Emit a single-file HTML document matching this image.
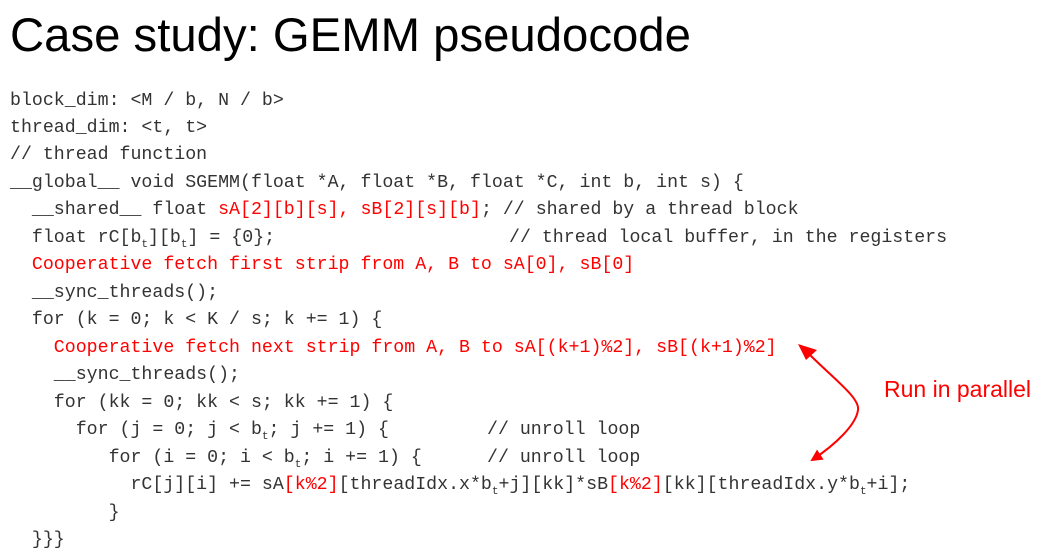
<!DOCTYPE html>
<html><head><meta charset="utf-8"><style>
html,body{margin:0;padding:0;background:#fff;}
body{width:1052px;height:557px;position:relative;overflow:hidden;}
.t{position:absolute;left:10px;top:8px;font-family:"Liberation Sans",sans-serif;font-size:47.3px;color:#000;white-space:nowrap;}
.l{position:absolute;left:10px;font-family:"Liberation Mono",monospace;font-size:18.25px;line-height:27px;color:#333;white-space:pre;}
.r{color:#f00;}
sub{font-size:11px;vertical-align:-5px;line-height:0;}
.c{position:absolute;font-family:"Liberation Mono",monospace;font-size:18.25px;line-height:27px;color:#333;white-space:pre;}
.p{position:absolute;left:884px;top:376px;font-family:"Liberation Sans",sans-serif;font-size:23px;color:#f00;white-space:nowrap;}
</style></head><body>
<div class="t">Case study: GEMM pseudocode</div>
<div class="l" style="top:88px">block_dim: &lt;M / b, N / b&gt;</div>
<div class="l" style="top:115px">thread_dim: &lt;t, t&gt;</div>
<div class="l" style="top:142px">// thread function</div>
<div class="l" style="top:170px">__global__ void SGEMM(float *A, float *B, float *C, int b, int s) {</div>
<div class="l" style="top:197px">  __shared__ float <span class="r">sA[2][b][s], sB[2][s][b]</span>; // shared by a thread block</div>
<div class="l" style="top:225px">  float rC[b<sub>t</sub>][b<sub>t</sub>] = {0};</div>
<div class="c" style="left:509px;top:225px">// thread local buffer, in the registers</div>
<div class="l r" style="top:252px">  Cooperative fetch first strip from A, B to sA[0], sB[0]</div>
<div class="l" style="top:280px">  __sync_threads();</div>
<div class="l" style="top:307px">  for (k = 0; k &lt; K / s; k += 1) {</div>
<div class="l r" style="top:335px">    Cooperative fetch next strip from A, B to sA[(k+1)%2], sB[(k+1)%2]</div>
<div class="l" style="top:362px">    __sync_threads();</div>
<div class="l" style="top:390px">    for (kk = 0; kk &lt; s; kk += 1) {</div>
<div class="l" style="top:417px">      for (j = 0; j &lt; b<sub>t</sub>; j += 1) {</div>
<div class="c" style="left:487px;top:417px">// unroll loop</div>
<div class="l" style="top:445px">         for (i = 0; i &lt; b<sub>t</sub>; i += 1) {</div>
<div class="c" style="left:487px;top:445px">// unroll loop</div>
<div class="l" style="top:472px">           rC[j][i] += sA<span class="r">[k%2]</span>[threadIdx.x*b<sub>t</sub>+j][kk]*sB<span class="r">[k%2]</span>[kk][threadIdx.y*b<sub>t</sub>+i];</div>
<div class="l" style="top:500px">         }</div>
<div class="l" style="top:527px">  }}}</div>
<div class="p">Run in parallel</div>
<svg width="1052" height="557" style="position:absolute;left:0;top:0">
<defs><marker id="a" markerWidth="12" markerHeight="12" refX="10" refY="6" orient="auto" markerUnits="userSpaceOnUse"><path d="M0,0 L12,6 L0,12 z" fill="#f00"/></marker></defs>
<path d="M808,353 C835,380 860,398 858,410 C856,425 835,445 812,460" fill="none" stroke="#f00" stroke-width="2" marker-end="url(#a)"/>
<path d="M798,344 L817,350 L806,360 z" fill="#f00"/>
</svg>
</body></html>
